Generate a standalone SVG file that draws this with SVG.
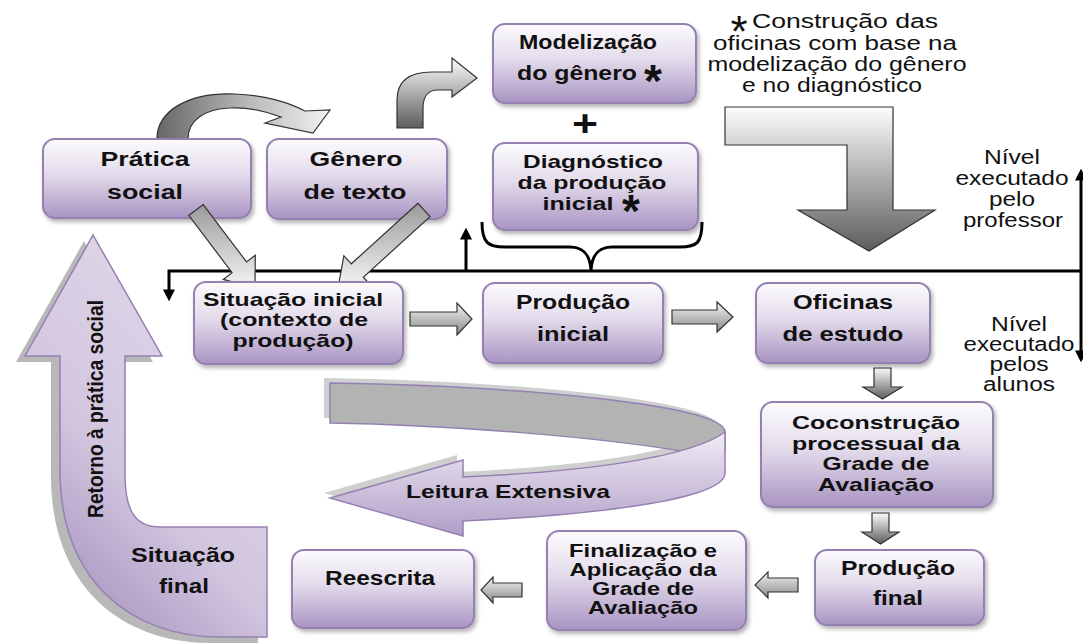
<svg xmlns="http://www.w3.org/2000/svg" width="1083" height="644" viewBox="0 0 1083 644">
<defs>
<style>
.b{font-family:"Liberation Sans",Arial,sans-serif;font-weight:bold;font-size:20px;fill:#111;text-anchor:middle}
.m{font-size:19px}
.s{font-size:18.5px}
.r{font-family:"Liberation Sans",Arial,sans-serif;font-size:20px;fill:#111;text-anchor:middle}
.st{font-family:"Liberation Sans",Arial,sans-serif;font-weight:bold;font-size:46px;fill:#111;text-anchor:middle}
.box{fill:url(#boxG);stroke:#9580b2;stroke-width:2;filter:url(#sh)}
.ga{stroke:#333;stroke-width:1.2}
.ln{fill:none;stroke:#000;stroke-width:3}
</style>
<linearGradient id="boxG" x1="0" y1="0" x2="0" y2="1">
<stop offset="0" stop-color="#fcfbfd"/><stop offset="0.45" stop-color="#e3dbeb"/><stop offset="1" stop-color="#a994c2"/>
</linearGradient>
<linearGradient id="ribG" x1="0" y1="0" x2="0" y2="1">
<stop offset="0" stop-color="#f1ecf5"/><stop offset="1" stop-color="#b09ec7"/>
</linearGradient>
<linearGradient id="bigG" x1="0.8" y1="0" x2="0.2" y2="1">
<stop offset="0" stop-color="#e3dbeb"/><stop offset="0.6" stop-color="#d2c6df"/><stop offset="1" stop-color="#a38ebd"/>
</linearGradient>
<linearGradient id="gV" x1="0" y1="0" x2="0" y2="1">
<stop offset="0" stop-color="#fdfdfd"/><stop offset="1" stop-color="#5c5c5c"/>
</linearGradient>
<linearGradient id="gH" x1="0" y1="0" x2="0" y2="1">
<stop offset="0" stop-color="#f4f4f4"/><stop offset="1" stop-color="#888"/>
</linearGradient>
<linearGradient id="gC" x1="0" y1="0" x2="1" y2="0">
<stop offset="0" stop-color="#666"/><stop offset="0.5" stop-color="#b5b5b5"/><stop offset="1" stop-color="#f2f2f2"/>
</linearGradient>
<linearGradient id="gD" x1="0" y1="0" x2="0" y2="1">
<stop offset="0" stop-color="#9a9a9a"/><stop offset="1" stop-color="#f6f6f6"/>
</linearGradient>
<filter id="sh" x="-10%" y="-10%" width="130%" height="140%">
<feDropShadow dx="2" dy="3" stdDeviation="2" flood-color="#000" flood-opacity="0.3"/>
</filter>
<marker id="ah" viewBox="0 0 10 10" refX="3" refY="5" markerWidth="4" markerHeight="4" orient="auto-start-reverse" markerUnits="strokeWidth">
<path d="M0,0 L10,5 L0,10 Z" fill="#000"/>
</marker>
</defs>
<rect width="1083" height="644" fill="#fff"/>

<g id="retorno">
<path d="M93,235 L162,356 L125,356 L125,475 C125,510 135,527 160,527 L267,527 L267,637 L220,637 C130,637 60,580 60,470 L60,356 L25,356 Z" transform="translate(-9,6)" fill="#b8b8b8"/>
<path d="M93,235 L162,356 L125,356 L125,475 C125,510 135,527 160,527 L267,527 L267,637 L220,637 C130,637 60,580 60,470 L60,356 L25,356 Z" fill="url(#bigG)" stroke="#9580b2" stroke-width="1.5"/>
<text class="b" transform="translate(103,409) rotate(-90)" style="font-size:22px" textLength="218" lengthAdjust="spacingAndGlyphs">Retorno à prática social</text>
<text class="b" x="183" y="562" textLength="104" lengthAdjust="spacingAndGlyphs">Situação</text>
<text class="b" x="184" y="593" textLength="50" lengthAdjust="spacingAndGlyphs">final</text>
</g>

<g id="leitura">
<g transform="translate(-6,-5)" fill="#cfcfcf">
<path d="M330,383 C520,386 725,405 725,432 L725,452 L687,452 C600,437 450,425 330,423 Z"/>
<path d="M725,432 L725,473 C725,498 610,514 463,521 L463,536 L330,498 L463,460 L463,477 C580,472 690,458 725,432 Z"/>
</g>
<path d="M330,383 C520,386 725,405 725,432 L725,452 L687,452 C600,437 450,425 330,423 Z" fill="#b3b3b3" stroke="#9580b2" stroke-width="1.5"/>
<path d="M725,432 L725,473 C725,498 610,514 463,521 L463,536 L330,498 L463,460 L463,477 C580,472 690,458 725,432 Z" fill="url(#ribG)" stroke="#9580b2" stroke-width="1.5"/>
<text class="b s" x="508" y="498" textLength="204" lengthAdjust="spacingAndGlyphs">Leitura Extensiva</text>
</g>

<g id="connectors">
<path class="ga" fill="url(#gC)" d="M157,139 C157,110 190,92 235,94 C265,95 290,103 305,111 L330,110 L313,133 L265,123 L281,117 C262,110 245,107 230,108 C205,109 188,120 188,139 Z"/>
<path class="ga" fill="url(#gV)" d="M397,128 L397,100 C397,80 410,72 432,72 L452,72 L452,58 L477,78 L452,97 L452,90 L438,90 C428,90 423,97 423,108 L423,128 Z"/>
<path class="ga" fill="url(#gV)" d="M725,107 L893,107 L893,210 L935,210 L869,251 L798,210 L847,210 L847,145 L725,145 Z"/>
<path class="ga" fill="url(#gH)" d="M410,312 L457,312 L457,303 L472,319 L457,335 L457,326 L410,326 Z"/>
<path class="ga" fill="url(#gH)" d="M672,310 L717,310 L717,302 L733,317 L717,332 L717,324 L672,324 Z"/>
<path class="ga" fill="url(#gV)" d="M874,368 L891,368 L891,387 L902,387 L882.5,399 L863,387 L874,387 Z"/>
<path class="ga" fill="url(#gV)" d="M872,513 L889,513 L889,532 L899,532 L880.5,544 L862,532 L872,532 Z"/>
<path class="ga" fill="url(#gH)" d="M798,578 L768,578 L768,572 L755,585 L768,598 L768,592 L798,592 Z"/>
<path class="ga" fill="url(#gH)" d="M522,583 L493,583 L493,577 L481,590 L493,603 L493,597 L522,597 Z"/>
<path class="ln" d="M1082,271 L169,271 L169,293" marker-end="url(#ah)"/>
<path class="ln" d="M466,271 L466,236" marker-end="url(#ah)"/>
<path class="ln" stroke-width="2.5" d="M1081,177 L1081,354" marker-start="url(#ah)" marker-end="url(#ah)"/>
<path class="ln" d="M482,222 C482,243 488,247 505,247 L570,247 C585,247 590,256 591,270 C592,256 597,247 612,247 L680,247 C697,247 702,243 702,222"/>
</g>

<g id="pratica">
<rect class="box" x="43" y="139" width="208" height="79" rx="12"/>
<text class="b" x="145" y="166" textLength="89" lengthAdjust="spacingAndGlyphs">Prática</text>
<text class="b" x="145" y="199" textLength="76" lengthAdjust="spacingAndGlyphs">social</text>
</g>
<g id="genero">
<rect class="box" x="267" y="139" width="180" height="80" rx="12"/>
<text class="b" x="356" y="166" textLength="93" lengthAdjust="spacingAndGlyphs">Gênero</text>
<text class="b" x="355" y="199" textLength="103" lengthAdjust="spacingAndGlyphs">de texto</text>
</g>

<g id="diag-arrows">
<path class="ga" fill="url(#gD)" d="M203.2,204.6 L246.5,261.9 L255.3,255.2 L255,288 L223.3,279.4 L232.1,272.7 L188.8,215.4 Z"/>
<path class="ga" fill="url(#gD)" d="M418,203.3 L351.3,263.8 L343.9,255.7 L338,288 L370.7,285.3 L363.3,277.2 L430,216.7 Z"/>
</g>

<g id="modelizacao">
<rect class="box" x="493" y="24" width="203" height="79" rx="12"/>
<text class="b" x="588" y="49" textLength="138" lengthAdjust="spacingAndGlyphs">Modelização</text>
<text class="b" x="577" y="80" textLength="120" lengthAdjust="spacingAndGlyphs">do gênero</text>
<text class="st" x="653" y="97">*</text>
</g>
<g id="mais">
<text class="b" x="585" y="136" style="font-size:36px" textLength="26" lengthAdjust="spacingAndGlyphs">+</text>
</g>
<g id="diagnostico">
<rect class="box" x="493" y="143" width="205" height="87" rx="12"/>
<text class="b m" x="593" y="168" textLength="140" lengthAdjust="spacingAndGlyphs">Diagnóstico</text>
<text class="b m" x="592" y="189" textLength="149" lengthAdjust="spacingAndGlyphs">da produção</text>
<text class="b m" x="578" y="210" textLength="71" lengthAdjust="spacingAndGlyphs">inicial</text>
<text class="st" x="631" y="227">*</text>
</g>

<g id="nota">
<text class="st" x="739" y="47" style="font-weight:normal;font-size:44px">*</text>
<text class="r" x="845" y="28" textLength="186" lengthAdjust="spacingAndGlyphs">Construção das</text>
<text class="r" x="835" y="50" textLength="244" lengthAdjust="spacingAndGlyphs">oficinas com base na</text>
<text class="r" x="837" y="71" textLength="259" lengthAdjust="spacingAndGlyphs">modelização do gênero</text>
<text class="r" x="832" y="92" textLength="180" lengthAdjust="spacingAndGlyphs">e no diagnóstico</text>
</g>
<g id="nivel-professor">
<text class="r" x="1012" y="164" textLength="56" lengthAdjust="spacingAndGlyphs">Nível</text>
<text class="r" x="1012" y="185" textLength="113" lengthAdjust="spacingAndGlyphs">executado</text>
<text class="r" x="1012" y="206" textLength="46" lengthAdjust="spacingAndGlyphs">pelo</text>
<text class="r" x="1013" y="227" textLength="100" lengthAdjust="spacingAndGlyphs">professor</text>
</g>
<g id="nivel-alunos">
<text class="r" x="1019" y="331" textLength="56" lengthAdjust="spacingAndGlyphs">Nível</text>
<text class="r" x="1019" y="351" textLength="111" lengthAdjust="spacingAndGlyphs">executado</text>
<text class="r" x="1019" y="371" textLength="59" lengthAdjust="spacingAndGlyphs">pelos</text>
<text class="r" x="1019" y="391" textLength="72" lengthAdjust="spacingAndGlyphs">alunos</text>
</g>

<g id="situacao-inicial">
<rect class="box" x="194" y="282" width="209" height="82" rx="12"/>
<text class="b m" x="293" y="306" textLength="180" lengthAdjust="spacingAndGlyphs">Situação inicial</text>
<text class="b m" x="294" y="326" textLength="148" lengthAdjust="spacingAndGlyphs">(contexto de</text>
<text class="b m" x="293" y="347" textLength="121" lengthAdjust="spacingAndGlyphs">produção)</text>
</g>
<g id="producao-inicial">
<rect class="box" x="483" y="283" width="180" height="80" rx="12"/>
<text class="b" x="573" y="309" textLength="114" lengthAdjust="spacingAndGlyphs">Produção</text>
<text class="b" x="573" y="341" textLength="72" lengthAdjust="spacingAndGlyphs">inicial</text>
</g>
<g id="oficinas">
<rect class="box" x="756" y="283" width="174" height="80" rx="12"/>
<text class="b" x="843" y="309" textLength="100" lengthAdjust="spacingAndGlyphs">Oficinas</text>
<text class="b" x="843" y="341" textLength="121" lengthAdjust="spacingAndGlyphs">de estudo</text>
</g>
<g id="coconstrucao">
<rect class="box" x="761" y="402" width="232" height="105" rx="12"/>
<text class="b m" x="876" y="429" textLength="168" lengthAdjust="spacingAndGlyphs">Coconstrução</text>
<text class="b m" x="876" y="449.5" textLength="168" lengthAdjust="spacingAndGlyphs">processual da</text>
<text class="b m" x="876" y="470" textLength="107" lengthAdjust="spacingAndGlyphs">Grade de</text>
<text class="b m" x="876" y="490.5" textLength="116" lengthAdjust="spacingAndGlyphs">Avaliação</text>
</g>
<g id="producao-final">
<rect class="box" x="815" y="550" width="169" height="75" rx="12"/>
<text class="b" x="898" y="575" textLength="114" lengthAdjust="spacingAndGlyphs">Produção</text>
<text class="b" x="898" y="605" textLength="50" lengthAdjust="spacingAndGlyphs">final</text>
</g>
<g id="finalizacao">
<rect class="box" x="547" y="531" width="199" height="99" rx="12"/>
<text class="b s" x="643" y="557" textLength="148" lengthAdjust="spacingAndGlyphs">Finalização e</text>
<text class="b s" x="643" y="576" textLength="147" lengthAdjust="spacingAndGlyphs">Aplicação da</text>
<text class="b s" x="643" y="595" textLength="102" lengthAdjust="spacingAndGlyphs">Grade de</text>
<text class="b s" x="643" y="614" textLength="110" lengthAdjust="spacingAndGlyphs">Avaliação</text>
</g>
<g id="reescrita">
<rect class="box" x="292" y="550" width="182" height="78" rx="12"/>
<text class="b" x="380" y="585" textLength="110" lengthAdjust="spacingAndGlyphs">Reescrita</text>
</g>
</svg>
